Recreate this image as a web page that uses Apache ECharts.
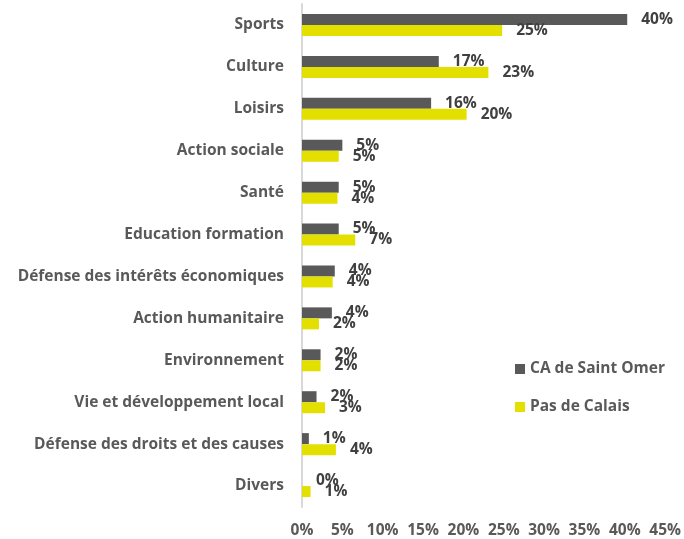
<!DOCTYPE html>
<html>
<head>
<meta charset="utf-8">
<script src="https://cdn.jsdelivr.net/npm/echarts@6/dist/echarts.min.js"></script>
<style>
    html, body { margin: 0; padding: 0; background: #fff; }
    #main { width: 684px; height: 539px; }
</style>
</head>
<body>
<div id="main"></div>
<script>
    // categories, top to bottom
    var categories = [
        'Sports', 'Culture', 'Loisirs', 'Action sociale', 'Santé',
        'Education formation', 'Défense des intérêts économiques',
        'Action humanitaire', 'Environnement', 'Vie et développement local',
        'Défense des droits et des causes', 'Divers'
    ];
    // values in %
    var saintOmer = [40.3, 16.95, 16.0, 5.0, 4.55, 4.55, 4.06, 3.7, 2.3, 1.8, 0.85, 0];
    var pasDeCalais = [24.8, 23.1, 20.4, 4.55, 4.4, 6.6, 3.8, 2.1, 2.3, 2.85, 4.2, 1.06];
    var seriesNames = ['CA de Saint Omer', 'Pas de Calais'];
    var xTicks = { min: 0, max: 45, interval: 5 };

    var FONT = '"Open Sans"';
    var FS = 15.5;
    var chart = echarts.init(document.getElementById('main'));

    function barLabel() {
        return {
            show: true,
            position: 'right',
            distance: 14,
            fontFamily: FONT,
            fontWeight: 'bold',
            fontSize: FS,
            color: '#404040',
            formatter: function (p) { return Math.round(p.value) + '%'; }
        };
    }

    var option = {
        animation: false,
        grid: { left: 302, right: 13, top: 4, bottom: 31 },
        legend: {
            orient: 'vertical',
            left: 510,
            top: 356,
            itemWidth: 10,
            itemHeight: 10,
            itemGap: 22,
            icon: 'rect',
            textStyle: { fontFamily: FONT, fontWeight: 'bold', fontSize: FS, color: '#595959' },
            data: seriesNames
        },
        xAxis: {
            type: 'value',
            min: xTicks.min,
            max: xTicks.max,
            interval: xTicks.interval,
            axisLine: { show: false },
            axisTick: { show: false },
            splitLine: { show: false },
            axisLabel: {
                margin: 16,
                fontFamily: FONT, fontWeight: 'bold', fontSize: FS, color: '#595959',
                formatter: '{value}%'
            }
        },
        yAxis: {
            type: 'category',
            inverse: true,
            data: categories,
            axisLine: { show: true, lineStyle: { color: '#d9d9d9', width: 2 } },
            axisTick: { show: false },
            axisLabel: {
                margin: 18,
                fontFamily: FONT, fontWeight: 'bold', fontSize: FS, color: '#595959'
            }
        },
        series: [
            {
                name: seriesNames[0],
                type: 'bar',
                data: saintOmer,
                barWidth: 11,
                barGap: '0%',
                itemStyle: { color: '#595959' },
                label: barLabel()
            },
            {
                name: seriesNames[1],
                type: 'bar',
                data: pasDeCalais,
                barWidth: 11,
                barGap: '0%',
                itemStyle: { color: '#e3e000' },
                label: barLabel()
            }
        ]
    };
    chart.setOption(option);
</script>
</body>
</html>
